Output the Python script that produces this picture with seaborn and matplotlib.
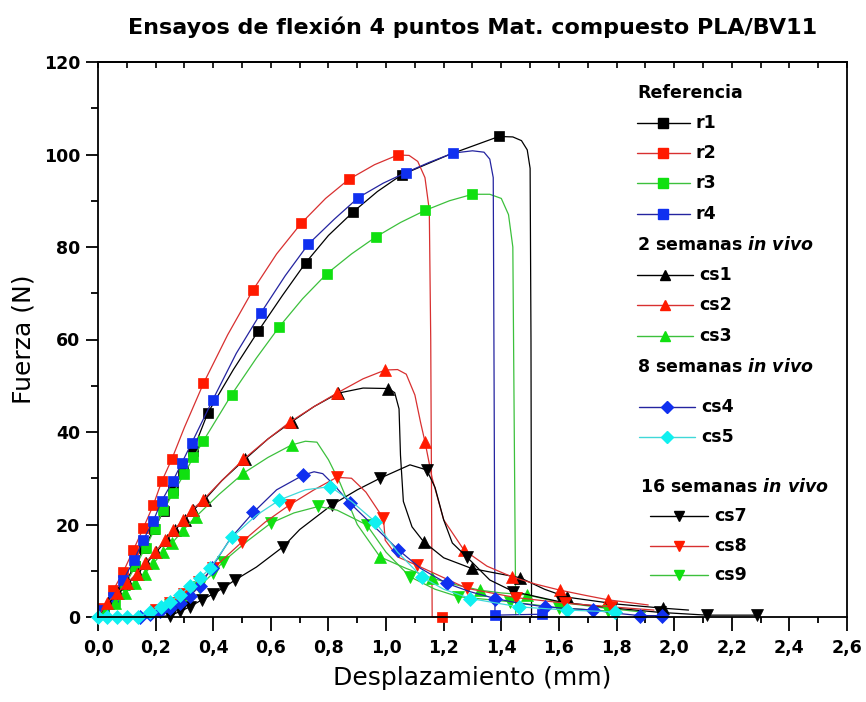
import matplotlib
matplotlib.use("Agg")
import matplotlib.pyplot as plt
import seaborn as sns
from matplotlib.ticker import MultipleLocator, FixedLocator

# ---------------- data ----------------
title = "Ensayos de flexión 4 puntos Mat. compuesto PLA/BV11"
x_label = "Desplazamiento (mm)"
y_label = "Fuerza (N)"
x_ticks = [0.0, 0.2, 0.4, 0.6, 0.8, 1.0, 1.2, 1.4, 1.6, 1.8, 2.0, 2.2, 2.4, 2.6]
x_tick_labels = ["0,0", "0,2", "0,4", "0,6", "0,8", "1,0", "1,2", "1,4", "1,6",
                 "1,8", "2,0", "2,2", "2,4", "2,6"]
y_ticks = [0, 20, 40, 60, 80, 100, 120]
y_tick_labels = ["0", "20", "40", "60", "80", "100", "120"]

# Referencia
r1_x = [0.0, 0.02, 0.055, 0.09, 0.127, 0.16, 0.195, 0.228, 0.262, 0.294, 0.33, 0.381, 0.47, 0.556,
        0.64, 0.721, 0.80, 0.886, 0.97, 1.054, 1.22, 1.392, 1.44, 1.47, 1.49, 1.50, 1.503, 1.505]
r1_y = [0, 1.5, 3.5, 7, 11, 15, 19, 23, 27.5, 31.5, 36, 44.1, 53.5, 61.8,
        69.5, 76.6, 82.5, 87.6, 92, 95.6, 100, 103.9, 103.8, 103, 101, 97, 60, 0]
r1_m = [1, 2, 3, 4, 5, 6, 7, 8, 9, 10, 11, 13, 15, 17, 19, 21]

r2_x = [0.0, 0.018, 0.053, 0.088, 0.123, 0.157, 0.192, 0.221, 0.256, 0.30, 0.366, 0.45, 0.537,
        0.62, 0.705, 0.79, 0.870, 0.96, 1.041, 1.08, 1.11, 1.135, 1.15, 1.155, 1.16, 1.193]
r2_y = [0, 1.9, 5.8, 9.8, 14.5, 19.2, 24.2, 29.3, 34.1, 41, 50.5, 61, 70.6,
        78.5, 85.1, 90.5, 94.6, 97.8, 99.9, 99.8, 98.5, 95, 88, 60, 0, 0]
r2_m = [1, 2, 3, 4, 5, 6, 7, 8, 10, 12, 14, 16, 18, 25]

r3_x = [0.0, 0.02, 0.06, 0.095, 0.13, 0.165, 0.197, 0.227, 0.262, 0.299, 0.331, 0.366, 0.464, 0.55,
        0.63, 0.71, 0.794, 0.88, 0.965, 1.05, 1.135, 1.22, 1.300, 1.36, 1.40, 1.425, 1.44, 1.445, 1.45]
r3_y = [0, 1, 3.5, 7, 11, 15, 19, 23.1, 26.9, 30.9, 34.5, 38.1, 48.1, 56,
        62.8, 68.8, 74.2, 78.5, 82.2, 85.3, 87.9, 90, 91.4, 91.4, 90.5, 87, 80, 40, 0.5]
r3_m = [1, 2, 3, 4, 5, 6, 7, 8, 9, 10, 11, 12, 14, 16, 18, 20, 22]

r4_x = [0.0, 0.018, 0.053, 0.088, 0.125, 0.157, 0.192, 0.221, 0.259, 0.290, 0.325, 0.398, 0.48,
        0.566, 0.65, 0.730, 0.82, 0.904, 0.99, 1.069, 1.15, 1.232, 1.30, 1.34, 1.36, 1.372,
        1.375, 1.378, 1.54]
r4_y = [0, 1.5, 4.4, 8.0, 12.3, 16.6, 20.8, 25.1, 29.3, 33.2, 37.6, 46.9, 57,
        65.8, 73.8, 80.6, 86, 90.7, 93.8, 96.1, 98.3, 100.3, 100.8, 100.5, 99, 95,
        50, 0.4, 0.6]
r4_m = [1, 2, 3, 4, 5, 6, 7, 8, 9, 10, 11, 13, 15, 17, 19, 21, 27, 28]

# 2 semanas in vivo
cs1_x = [0.0, 0.035, 0.07, 0.105, 0.139, 0.168, 0.203, 0.238, 0.267, 0.301, 0.33, 0.371, 0.43,
         0.51, 0.59, 0.672, 0.75, 0.834, 0.92, 1.008, 1.03, 1.045, 1.05, 1.06, 1.09, 1.13,
         1.2, 1.297, 1.38, 1.465, 1.55, 1.627, 1.8, 1.963, 2.05]
cs1_y = [0, 3.0, 5.1, 7.3, 9.4, 11.6, 14.1, 16.6, 18.8, 21.0, 23.1, 25.4, 29.5,
         34.1, 38.5, 42.2, 45.5, 48.4, 49.5, 49.4, 48.5, 45, 35, 25, 19.5, 16.3,
         12.8, 10.5, 9.5, 8.5, 6, 4.3, 2.8, 1.9, 1.5]
cs1_m = [1, 2, 3, 4, 5, 6, 7, 8, 9, 10, 11, 13, 15, 17, 19, 25, 27, 29, 31, 33]

cs2_x = [0.0, 0.03, 0.065, 0.1, 0.134, 0.163, 0.198, 0.233, 0.262, 0.296, 0.325, 0.366, 0.43,
         0.505, 0.59, 0.667, 0.75, 0.829, 0.92, 0.997, 1.04, 1.07, 1.10, 1.12, 1.135, 1.16,
         1.2, 1.27, 1.35, 1.436, 1.52, 1.604, 1.69, 1.772, 1.91]
cs2_y = [0, 3.0, 5.1, 7.3, 9.4, 11.6, 14.1, 16.6, 18.8, 21.0, 23.1, 25.4, 29.5,
         34.1, 38.5, 42.2, 45.5, 48.4, 51.5, 53.4, 53.5, 52.5, 48, 42, 37.9, 30,
         21, 14.5, 11, 8.7, 7.1, 5.8, 4.7, 3.7, 2.6]
cs2_m = [1, 2, 3, 4, 5, 6, 7, 8, 9, 10, 11, 13, 15, 17, 19, 24, 27, 29, 31, 33]

cs3_x = [0.0, 0.024, 0.059, 0.094, 0.128, 0.163, 0.192, 0.227, 0.256, 0.296, 0.34, 0.42, 0.505,
         0.59, 0.672, 0.72, 0.76, 0.80, 0.84, 0.90, 0.979, 1.07, 1.159, 1.24, 1.326, 1.40,
         1.488, 1.6, 1.75, 1.9]
cs3_y = [0, 1.1, 3.0, 5.1, 7.3, 9.4, 11.6, 14.1, 15.9, 18.8, 21.7, 26.5, 31.1,
         34.5, 37.2, 38.0, 37.8, 34, 29, 20, 13.0, 10.5, 8.4, 7.0, 5.8, 5.2,
         4.8, 3.2, 2.0, 1.0]
cs3_m = [1, 2, 3, 4, 5, 6, 7, 8, 9, 10, 12, 14, 20, 22, 24, 26]

# 8 semanas in vivo
cs4_x = [0.0, 0.08, 0.146, 0.18, 0.215, 0.25, 0.285, 0.32, 0.355, 0.395, 0.46, 0.539, 0.62,
         0.713, 0.75, 0.78, 0.82, 0.875, 0.96, 1.043, 1.12, 1.21, 1.29, 1.378, 1.46, 1.552,
         1.64, 1.72, 1.80, 1.882, 1.957]
cs4_y = [0, 0, 0.1, 0.6, 1.2, 2.0, 3.0, 4.6, 6.8, 10.7, 17, 22.6, 27.5,
         30.7, 31.4, 31, 28.5, 24.6, 19.5, 14.5, 10.5, 7.3, 5.5, 4.0, 3.0, 2.2,
         1.8, 1.5, 0.8, 0.3, 0.3]
cs4_m = [2, 3, 4, 5, 6, 7, 8, 9, 11, 13, 17, 19, 21, 23, 25, 27, 29, 30]

cs5_x = [0.0, 0.03, 0.065, 0.1, 0.14, 0.18, 0.22, 0.25, 0.285, 0.319, 0.354, 0.389, 0.464, 0.55,
         0.63, 0.72, 0.806, 0.88, 0.962, 1.04, 1.124, 1.2, 1.292, 1.46, 1.627, 1.795]
cs5_y = [0, 0, 0, 0, 0.1, 1.1, 2.2, 3.3, 4.8, 6.6, 8.5, 10.5, 17.2, 22,
         25.3, 27.5, 28.2, 25, 20.6, 14, 8.7, 6, 4.0, 2.2, 1.5, 1.1]
cs5_m = [0, 1, 2, 3, 4, 5, 6, 7, 8, 9, 10, 11, 12, 14, 16, 18, 20, 22, 23, 24, 25]

# 16 semanas in vivo
cs7_x = [0.0, 0.1, 0.2, 0.25, 0.285, 0.319, 0.36, 0.40, 0.435, 0.476, 0.55, 0.643, 0.70, 0.811,
         0.9, 0.979, 1.083, 1.141, 1.17, 1.2, 1.23, 1.28, 1.36, 1.442, 1.61, 1.78, 1.95,
         2.113, 2.287]
cs7_y = [0, 0, 0, 0.3, 1.2, 2.2, 3.7, 5.0, 6.3, 8.0, 10.8, 15.2, 18.9, 24.2,
         27.5, 30.0, 32.9, 31.8, 28, 21, 16, 13.0, 8, 5.5, 3.2, 2.0, 1.0,
         0.4, 0.4]
cs7_m = [3, 4, 5, 6, 7, 8, 9, 11, 13, 15, 17, 21, 23, 24, 25, 26, 27, 28]

cs8_x = [0.0, 0.1, 0.15, 0.2, 0.25, 0.3, 0.35, 0.40, 0.501, 0.58, 0.664, 0.75, 0.829, 0.88,
         0.93, 0.991, 0.997, 1.04, 1.106, 1.2, 1.28, 1.45, 1.62, 1.78, 1.93]
cs8_y = [0, 0, 0.3, 1.5, 3.0, 5.0, 7.5, 10.5, 16.3, 20.5, 24.2, 27.5, 30.2, 30,
         27, 21.3, 16.6, 13, 11.2, 8.5, 6.2, 4.2, 3.0, 2.2, 1.5]
cs8_m = [3, 4, 5, 6, 7, 8, 10, 12, 15, 18, 20, 21, 22, 23]

cs9_x = [0.0, 0.1, 0.15, 0.2, 0.25, 0.3, 0.35, 0.40, 0.435, 0.52, 0.6, 0.68, 0.765, 0.83,
         0.933, 1.0, 1.083, 1.17, 1.25, 1.43, 1.6, 1.77]
cs9_y = [0, 0, 0.2, 1.2, 2.5, 4.2, 6.5, 9.5, 12.0, 16.5, 20.3, 22.5, 23.9, 23.1,
         19.9, 14, 8.7, 6, 4.4, 3.3, 2.0, 1.3]
cs9_m = [3, 4, 5, 6, 7, 8, 10, 12, 14, 16, 18, 19, 20, 21]

# ---------------- style ----------------
BLACK, BLACK_M = "#000000", "#000000"
RED, RED_M = "#d83030", "#ff1a00"
GREEN, GREEN_M = "#3cc03c", "#10e010"
BLUE, BLUE_M = "#2424a0", "#1030f0"
CYAN, CYAN_M = "#40d8d8", "#10f0f0"

sns.set_theme(style="ticks")
plt.rcParams["font.family"] = ["DejaVu Sans"]
plt.rcParams["text.color"] = "black"
plt.rcParams["axes.labelcolor"] = "black"
plt.rcParams["xtick.color"] = "black"
plt.rcParams["ytick.color"] = "black"
plt.rcParams["axes.edgecolor"] = "black"
plt.rcParams["mathtext.fontset"] = "custom"
plt.rcParams["mathtext.it"] = "DejaVu Sans:italic:bold"
plt.rcParams["mathtext.rm"] = "DejaVu Sans:bold"
plt.rcParams["mathtext.bf"] = "DejaVu Sans:bold"

fig = plt.figure(figsize=(8.66, 7.02), dpi=100)
ax = fig.add_axes([98 / 866, 1 - 617 / 702, 749 / 866, 555 / 702])

series = [
    (r1_x, r1_y, r1_m, "s", BLACK, BLACK_M, 7.5, "r1"),
    (r2_x, r2_y, r2_m, "s", RED, RED_M, 7.5, "r2"),
    (r3_x, r3_y, r3_m, "s", GREEN, GREEN_M, 7.5, "r3"),
    (r4_x, r4_y, r4_m, "s", BLUE, BLUE_M, 7.5, "r4"),
    (cs1_x, cs1_y, cs1_m, "^", BLACK, BLACK_M, 9, "cs1"),
    (cs3_x, cs3_y, cs3_m, "^", GREEN, GREEN_M, 9, "cs3"),
    (cs2_x, cs2_y, cs2_m, "^", RED, RED_M, 9, "cs2"),
    (cs7_x, cs7_y, cs7_m, "v", BLACK, BLACK_M, 9, "cs7"),
    (cs9_x, cs9_y, cs9_m, "v", GREEN, GREEN_M, 9, "cs9"),
    (cs8_x, cs8_y, cs8_m, "v", RED, RED_M, 9, "cs8"),
    (cs4_x, cs4_y, cs4_m, "D", BLUE, BLUE_M, 7, "cs4"),
    (cs5_x, cs5_y, cs5_m, "D", CYAN, CYAN_M, 7, "cs5"),
]

for xs, ys, ms_idx, mk, lc, mc, msz, name in series:
    sns.lineplot(x=xs, y=ys, ax=ax, sort=False, estimator=None, color=lc,
                 marker=mk, markevery=ms_idx, markersize=msz,
                 markerfacecolor=mc, markeredgecolor=mc, markeredgewidth=0.5,
                 linewidth=0.9, clip_on=False)

ax.set_xlim(0, 2.6)
ax.set_ylim(0, 120)
ax.xaxis.set_major_locator(FixedLocator(x_ticks))
ax.set_xticklabels(x_tick_labels)
ax.xaxis.set_minor_locator(MultipleLocator(0.1))
ax.yaxis.set_major_locator(FixedLocator(y_ticks))
ax.set_yticklabels(y_tick_labels)
ax.yaxis.set_minor_locator(MultipleLocator(10))

for s in ax.spines.values():
    s.set_visible(True)
    s.set_linewidth(1.3)
    s.set_color("black")

ax.tick_params(axis="x", which="major", direction="out", length=10, width=1.3,
               pad=6, labelsize=12.5, color="black", labelcolor="black")
ax.tick_params(axis="x", which="minor", direction="out", length=4, width=1.3, color="black")
ax.tick_params(axis="y", which="major", direction="out", length=9, width=1.3,
               pad=4, labelsize=12.5, color="black", labelcolor="black")
ax.tick_params(axis="y", which="minor", direction="out", length=5, width=1.3, color="black")
for lab in ax.get_xticklabels() + ax.get_yticklabels():
    lab.set_fontweight("bold")

top = ax.secondary_xaxis("top")
top.xaxis.set_major_locator(MultipleLocator(0.1))
top.tick_params(axis="x", which="major", direction="in", length=4, width=1.2,
                labeltop=False, color="black")
top.spines["top"].set_linewidth(1.3)

ax.set_title(title, fontsize=16, fontweight="bold", pad=20, color="black")
ax.set_xlabel(x_label, fontsize=18, labelpad=6, color="black")
ax.set_ylabel(y_label, fontsize=18, labelpad=6, color="black")

# ---------------- legend (grouped, drawn inside the axes) ----------------
def ax_x(px):
    return (px - 98) / 749


def ax_y(py):
    return (617 - py) / 555


headers = [
    ("Referencia", 637, 93),
    (r"2 semanas $\mathit{in\ vivo}$", 637, 245),
    (r"8 semanas $\mathit{in\ vivo}$", 637, 367),
    (r"16 semanas $\mathit{in\ vivo}$", 640, 487),
]
for txt, px, py in headers:
    ax.text(ax_x(px), ax_y(py), txt, transform=ax.transAxes, fontsize=12.5,
            fontweight="bold", va="center", ha="left", color="black")

entries = [
    ("r1", "s", BLACK, BLACK_M, 637, 690, 123),
    ("r2", "s", RED, RED_M, 637, 690, 153),
    ("r3", "s", GREEN, GREEN_M, 637, 690, 183),
    ("r4", "s", BLUE, BLUE_M, 637, 690, 214),
    ("cs1", "^", BLACK, BLACK_M, 637, 693, 275),
    ("cs2", "^", RED, RED_M, 637, 693, 305),
    ("cs3", "^", GREEN, GREEN_M, 637, 693, 336),
    ("cs4", "D", BLUE, BLUE_M, 639, 695, 407),
    ("cs5", "D", CYAN, CYAN_M, 639, 695, 437),
    ("cs7", "v", BLACK, BLACK_M, 650, 708, 516),
    ("cs8", "v", RED, RED_M, 650, 708, 546),
    ("cs9", "v", GREEN, GREEN_M, 650, 708, 575),
]
for name, mk, lc, mc, x0, x1, py in entries:
    ax.plot([ax_x(x0), ax_x(x1)], [ax_y(py), ax_y(py)], transform=ax.transAxes,
            color=lc, linewidth=1.0, clip_on=False)
    ax.plot([ax_x((x0 + x1) / 2)], [ax_y(py)], transform=ax.transAxes, marker=mk,
            markersize=6.5, color=mc, markeredgecolor=mc, clip_on=False)
    ax.text(ax_x(x1 + 6), ax_y(py), name, transform=ax.transAxes, fontsize=12.5,
            fontweight="bold", va="center", ha="left", color="black")

fig.savefig("out.png", dpi=100)
